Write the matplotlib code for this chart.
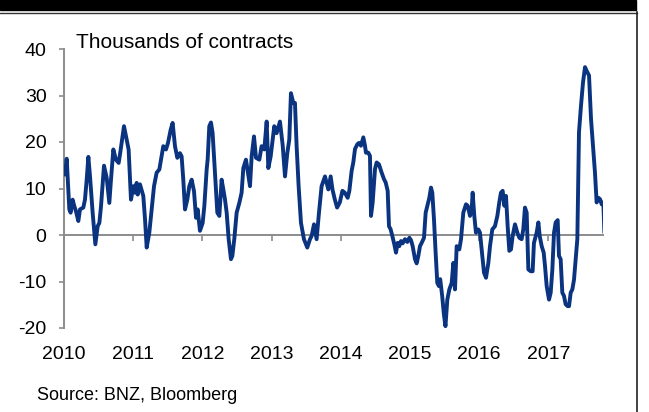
import matplotlib
matplotlib.use("Agg")
import matplotlib.pyplot as plt
from matplotlib.patches import Rectangle
from matplotlib.lines import Line2D

plt.rcParams['font.family'] = ['Liberation Sans', 'DejaVu Sans']

# decimal-year dates and net positions (thousands of contracts)
years = [
    2010.014, 2010.039, 2010.077, 2010.096, 2010.125, 2010.149, 2010.173, 2010.207, 2010.231, 2010.279,
    2010.303, 2010.328, 2010.352, 2010.376, 2010.414, 2010.453, 2010.487, 2010.511, 2010.535, 2010.578,
    2010.617, 2010.655, 2010.679, 2010.713, 2010.751, 2010.790, 2010.809, 2010.867, 2010.906, 2010.934,
    2010.968, 2011.002, 2011.026, 2011.050, 2011.065, 2011.098, 2011.146, 2011.171, 2011.195, 2011.233,
    2011.267, 2011.301, 2011.339, 2011.378, 2011.402, 2011.435, 2011.474, 2011.503, 2011.541, 2011.570,
    2011.604, 2011.638, 2011.676, 2011.700, 2011.724, 2011.749, 2011.782, 2011.811, 2011.845, 2011.879,
    2011.908, 2011.932, 2011.965, 2012.004, 2012.028, 2012.062, 2012.076, 2012.100, 2012.124, 2012.148,
    2012.182, 2012.216, 2012.245, 2012.278, 2012.303, 2012.327, 2012.351, 2012.380, 2012.413, 2012.433,
    2012.461, 2012.495, 2012.534, 2012.567, 2012.592, 2012.630, 2012.659, 2012.688, 2012.712, 2012.746,
    2012.775, 2012.823, 2012.856, 2012.895, 2012.929, 2012.953, 2012.987, 2013.039, 2013.073, 2013.121,
    2013.160, 2013.194, 2013.227, 2013.256, 2013.280, 2013.314, 2013.338, 2013.362, 2013.391, 2013.425,
    2013.468, 2013.516, 2013.555, 2013.579, 2013.613, 2013.651, 2013.685, 2013.723, 2013.772, 2013.820,
    2013.854, 2013.880, 2013.913, 2013.947, 2013.986, 2014.024, 2014.058, 2014.100, 2014.124, 2014.157,
    2014.181, 2014.206, 2014.239, 2014.263, 2014.292, 2014.326, 2014.350, 2014.364, 2014.398, 2014.422,
    2014.437, 2014.461, 2014.495, 2014.519, 2014.552, 2014.591, 2014.625, 2014.649, 2014.678, 2014.697,
    2014.721, 2014.745, 2014.774, 2014.798, 2014.822, 2014.846, 2014.870, 2014.894, 2014.928, 2014.962,
    2014.991, 2015.015, 2015.039, 2015.073, 2015.097, 2015.121, 2015.145, 2015.169, 2015.203, 2015.227,
    2015.256, 2015.280, 2015.304, 2015.323, 2015.347, 2015.371, 2015.395, 2015.419, 2015.437, 2015.465,
    2015.490, 2015.513, 2015.540, 2015.569, 2015.603, 2015.627, 2015.651, 2015.675, 2015.713, 2015.738,
    2015.771, 2015.810, 2015.834, 2015.868, 2015.892, 2015.906, 2015.930, 2015.954, 2015.988, 2016.012,
    2016.036, 2016.070, 2016.099, 2016.133, 2016.157, 2016.190, 2016.229, 2016.263, 2016.291, 2016.315,
    2016.340, 2016.364, 2016.388, 2016.412, 2016.436, 2016.460, 2016.484, 2016.518, 2016.552, 2016.581,
    2016.614, 2016.638, 2016.662, 2016.687, 2016.711, 2016.745, 2016.773, 2016.792, 2016.831, 2016.856,
    2016.875, 2016.904, 2016.933, 2016.952, 2016.976, 2017.010, 2017.034, 2017.058, 2017.082, 2017.106,
    2017.135, 2017.154, 2017.178, 2017.202, 2017.226, 2017.250, 2017.279, 2017.299, 2017.323, 2017.347,
    2017.371, 2017.395, 2017.419, 2017.443, 2017.472, 2017.501, 2017.530, 2017.554, 2017.578, 2017.588,
    2017.617, 2017.646, 2017.674, 2017.698, 2017.723, 2017.747, 2017.771, 2017.795, 2017.810,
]
values = [
    13.0, 16.4, 5.5, 4.8, 7.6, 6.2, 5.1, 3.0, 5.5, 5.9,
    7.6, 11.9, 16.8, 12.6, 4.8, -2.0, 1.9, 2.6, 6.2, 14.9,
    12.3, 6.9, 11.9, 18.4, 16.2, 15.5, 17.3, 23.4, 20.5, 18.4,
    7.6, 10.5, 9.1, 11.2, 8.7, 10.9, 8.4, 3.4, -2.7, 0.5,
    5.5, 10.5, 13.4, 14.1, 16.2, 19.1, 18.4, 19.8, 22.6, 24.1,
    19.1, 16.6, 17.6, 16.9, 11.9, 5.5, 7.6, 10.5, 11.9, 9.4,
    3.7, 5.5, 0.9, 2.6, 6.2, 14.1, 16.2, 23.4, 24.2, 21.9,
    13.4, 4.8, 4.1, 11.9, 9.8, 7.6, 4.8, -0.9, -5.2, -4.5,
    -0.9, 4.8, 6.9, 9.1, 14.4, 16.2, 13.4, 10.5, 16.9, 21.2,
    16.6, 16.2, 19.1, 18.4, 24.4, 14.4, 16.9, 23.4, 21.9, 24.4,
    19.4, 12.6, 17.6, 20.5, 30.5, 28.4, 28.4, 19.1, 10.5, 2.6,
    -0.9, -2.7, -0.9, -0.2, 2.3, -0.9, 4.8, 10.5, 12.6, 9.8,
    12.6, 9.8, 7.7, 5.9, 7.0, 9.5, 9.1, 8.0, 9.5, 13.8,
    15.6, 18.5, 19.5, 19.8, 19.2, 21.0, 19.2, 17.7, 17.7, 17.0,
    4.1, 7.0, 14.2, 15.6, 15.2, 13.4, 12.0, 11.3, 9.5, 1.9,
    1.2, -0.2, -2.0, -3.8, -1.7, -2.4, -1.3, -1.8, -0.9, -1.5,
    -0.6, -1.1, -2.4, -5.2, -6.1, -4.5, -2.4, -1.7, -0.6, 4.8,
    6.6, 8.0, 10.2, 9.1, 3.4, -3.8, -10.3, -11.0, -9.5, -13.0,
    -17.0, -19.6, -13.9, -11.7, -10.3, -6.0, -11.7, -2.4, -3.1, -0.9,
    4.8, 6.6, 6.3, 4.1, 5.5, 9.1, 4.1, 0.5, 1.2, 0.5,
    -3.1, -8.1, -9.2, -6.0, -2.4, 1.2, 1.9, 4.1, 7.0, 9.1,
    9.5, 6.3, 8.4, 1.9, -3.4, -3.1, -0.2, 2.3, 0.5, -0.6,
    -0.9, 1.2, 5.9, 4.8, -7.4, -7.8, -7.8, -1.7, 0.5, 2.7,
    -0.2, -2.4, -3.8, -6.7, -11.0, -13.9, -12.4, -7.4, 0.5, 2.7,
    3.2, -4.5, -5.2, -12.4, -13.1, -14.9, -15.3, -15.3, -12.4, -11.7,
    -9.6, -5.2, -0.9, 22.1, 27.8, 32.8, 36.1, 35.3, 34.6, 34.3,
    24.9, 19.2, 13.4, 7.0, 8.0, 7.7, 6.6, 7.0, 0.5,
]

year_ticks = [2010, 2011, 2012, 2013, 2014, 2015, 2016, 2017]
year_labels = ['2010', '2011', '2012', '2013', '2014', '2015', '2016', '2017']
y_ticks = [-20, -10, 0, 10, 20, 30, 40]

W, H = 649, 412
fig = plt.figure(figsize=(W / 100, H / 100), dpi=100)

# frame decorations
fig.patches.append(Rectangle((0, 1 - 10 / H), 636 / W, 10 / H, transform=fig.transFigure,
                             color='black', zorder=0))
fig.lines.append(Line2D([0, 637 / W], [1 - 12.5 / H, 1 - 12.5 / H], transform=fig.transFigure,
                        color='#333333', lw=1.0))
fig.lines.append(Line2D([636.5 / W, 636.5 / W], [0, 1 - 12 / H], transform=fig.transFigure,
                        color='#222222', lw=1.2))

ax = fig.add_axes([64 / W, 1 - 328 / H, (603 - 64) / W, (328 - 49) / H])
ax.plot(years, values, color='#0a3380', lw=2.8, solid_joinstyle='round', solid_capstyle='round',
        zorder=3)

ax.set_xlim(2010, 2017.79)
ax.set_ylim(-20, 40)

gray = '#8c8c8c'
for s in ['top', 'right']:
    ax.spines[s].set_visible(False)
ax.spines['left'].set_color(gray)
ax.spines['left'].set_linewidth(1.4)
ax.spines['bottom'].set_position(('data', 0))
ax.spines['bottom'].set_color(gray)
ax.spines['bottom'].set_linewidth(1.4)
ax.spines['bottom'].set_zorder(2)

ax.set_yticks(y_ticks)
ax.set_yticklabels([str(v) for v in y_ticks])
ax.tick_params(axis='y', length=3.6, width=1.2, color=gray, pad=9, labelsize=14)
ax.set_xticks(year_ticks)
ax.tick_params(axis='x', length=4.3, width=1.2, color=gray, labelbottom=False)

sec = ax.secondary_xaxis('bottom')
sec.spines['bottom'].set_visible(False)
sec.set_xticks(year_ticks)
sec.set_xticklabels(year_labels)
sec.tick_params(axis='x', length=0, pad=13, labelsize=14)

fig.text(76 / W, 1 - 48 / H, 'Thousands of contracts', fontsize=15, va='baseline', ha='left')
fig.text(37 / W, 1 - 396 / H, 'Source: BNZ, Bloomberg', fontsize=13, va='center', ha='left')

fig.savefig('out.png', dpi=100)
